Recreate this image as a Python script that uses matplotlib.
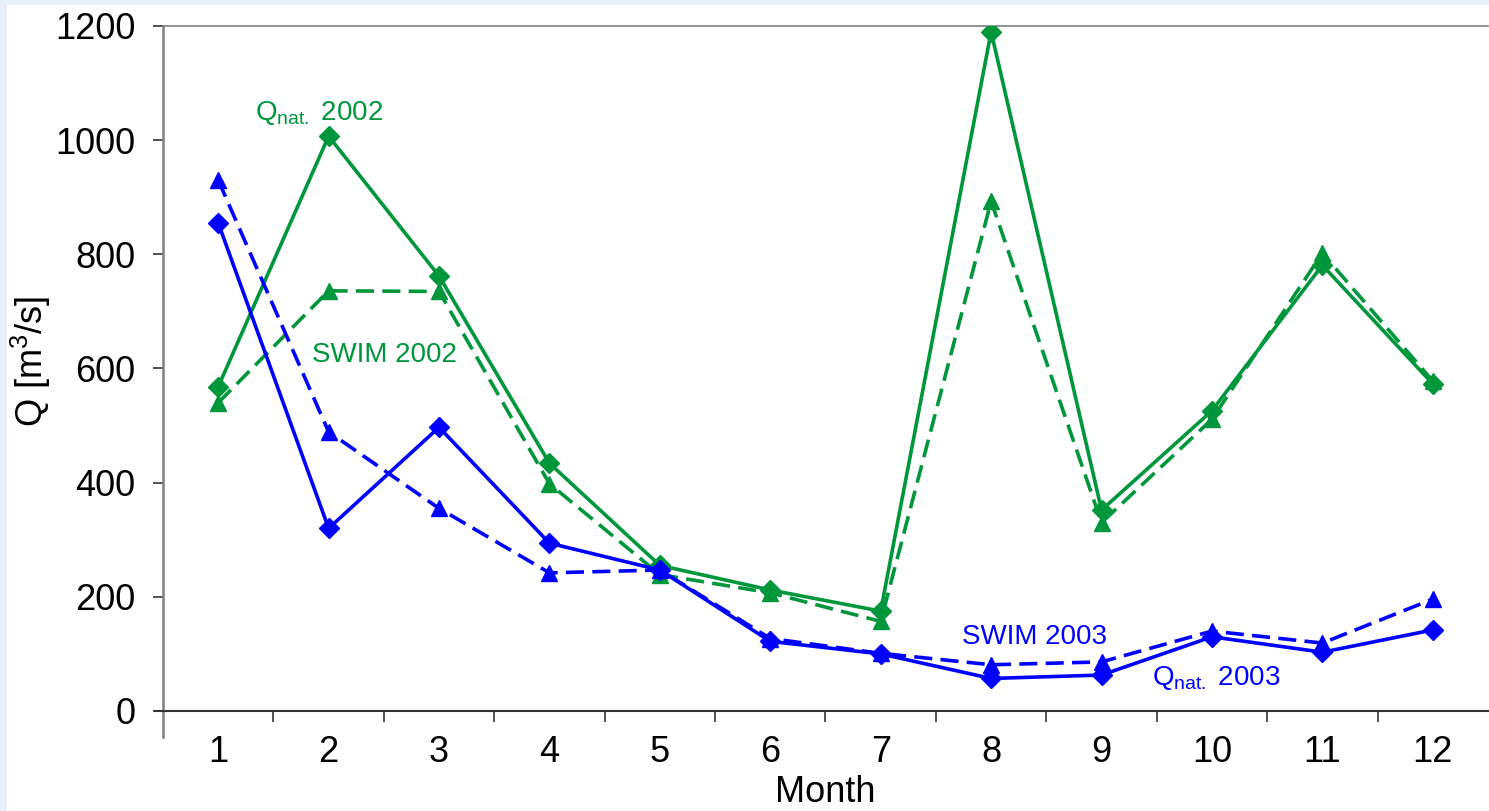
import matplotlib
matplotlib.use("Agg")
import matplotlib.pyplot as plt
from matplotlib.patches import Rectangle
from matplotlib.ticker import FixedLocator

plt.rcParams['font.family'] = ['Liberation Sans', 'DejaVu Sans']
plt.rcParams['mathtext.fontset'] = 'custom'
plt.rcParams['mathtext.rm'] = 'Liberation Sans'
plt.rcParams['mathtext.it'] = 'Liberation Sans:italic'
plt.rcParams['mathtext.bf'] = 'Liberation Sans:bold'

months = list(range(1, 13))
qnat_2002 = [568, 1007, 762, 434, 255, 212, 175, 1190, 352, 526, 781, 573]
swim_2002 = [540, 736, 735, 398, 239, 207, 157, 893, 330, 511, 802, 578]
qnat_2003 = [855, 320, 497, 294, 247, 122, 100, 57, 63, 130, 103, 142]
swim_2003 = [930, 489, 355, 242, 247, 127, 101, 81, 86, 140, 119, 196]
y_ticks = [0, 200, 400, 600, 800, 1000, 1200]

GREEN = '#00963C'
BLUE = '#0000FF'

W, H = 1489, 811
fig = plt.figure(figsize=(W / 100, H / 100), dpi=100)
fig.patch.set_facecolor('#E8EEFC')
fig.patches.append(Rectangle((7 / W, 0), 1 - 7 / W, 1 - 5 / H, transform=fig.transFigure,
                             facecolor='white', edgecolor='none', zorder=-10))

ax = fig.add_axes([163 / W, 1 - 711 / H, (1488 - 163) / W, (711 - 26) / H])
ax.set_facecolor('white')

lw = 2.6
ms_d = 10
ms_t = 11
dash = (5, 2.3)
ax.plot(months, qnat_2002, color=GREEN, lw=lw, marker='D', ms=ms_d, zorder=3)
ax.plot(months, swim_2002, color=GREEN, lw=lw, marker='^', ms=ms_t, dashes=dash, zorder=3)
ax.plot(months, qnat_2003, color=BLUE, lw=lw, marker='D', ms=ms_d, zorder=4)
ax.plot(months, swim_2003, color=BLUE, lw=lw, marker='^', ms=ms_t, dashes=dash, zorder=4)

ax.set_xlim(0.5, 12.5)
ax.set_ylim(0, 1200)

ax.set_xticks(months)
ax.set_xticklabels([str(m) for m in months])
ax.xaxis.set_minor_locator(FixedLocator([m + 0.5 for m in months[:-1]]))
ax.tick_params(axis='x', which='major', length=0, pad=17, labelsize=26)
ax.tick_params(axis='x', which='minor', length=8, width=1.2, direction='out', color='#333333')
ax.set_yticks(y_ticks)
ax.tick_params(axis='y', which='major', length=7, width=1.2, direction='out', color='#333333',
               pad=13, labelsize=26)

ax.spines['right'].set_visible(False)
ax.spines['top'].set_color('#808080')
ax.spines['top'].set_linewidth(1.2)
ax.spines['left'].set_color('#808080')
ax.spines['left'].set_linewidth(1.8)
ax.spines['bottom'].set_color('#333333')
ax.spines['bottom'].set_linewidth(1.5)

# Excel-style axis overhang
ax.plot([0, 0], [0, -26 / 685], transform=ax.transAxes, color='#808080', lw=1.8, clip_on=False)
ax.plot([-8 / 1325, 0], [0, 0], transform=ax.transAxes, color='#333333', lw=1.5, clip_on=False)

ax.set_xlabel('Month', fontsize=26, labelpad=4)
ax.set_ylabel('Q [m$^3$/s]', fontsize=26)
ax.yaxis.set_label_coords(-0.083, 0.51)

ax.text(1.33, 1035, r'Q$_{\mathrm{nat.}}$ 2002', color=GREEN, fontsize=20, ha='left', va='baseline')
ax.text(1.85, 624, 'SWIM 2002', color=GREEN, fontsize=20, ha='left', va='center')
ax.text(7.74, 130, 'SWIM 2003', color=BLUE, fontsize=20, ha='left', va='center')
ax.text(9.46, 46, r'Q$_{\mathrm{nat.}}$ 2003', color=BLUE, fontsize=20, ha='left', va='baseline')

fig.savefig('out.png', dpi=100, facecolor=fig.get_facecolor())
